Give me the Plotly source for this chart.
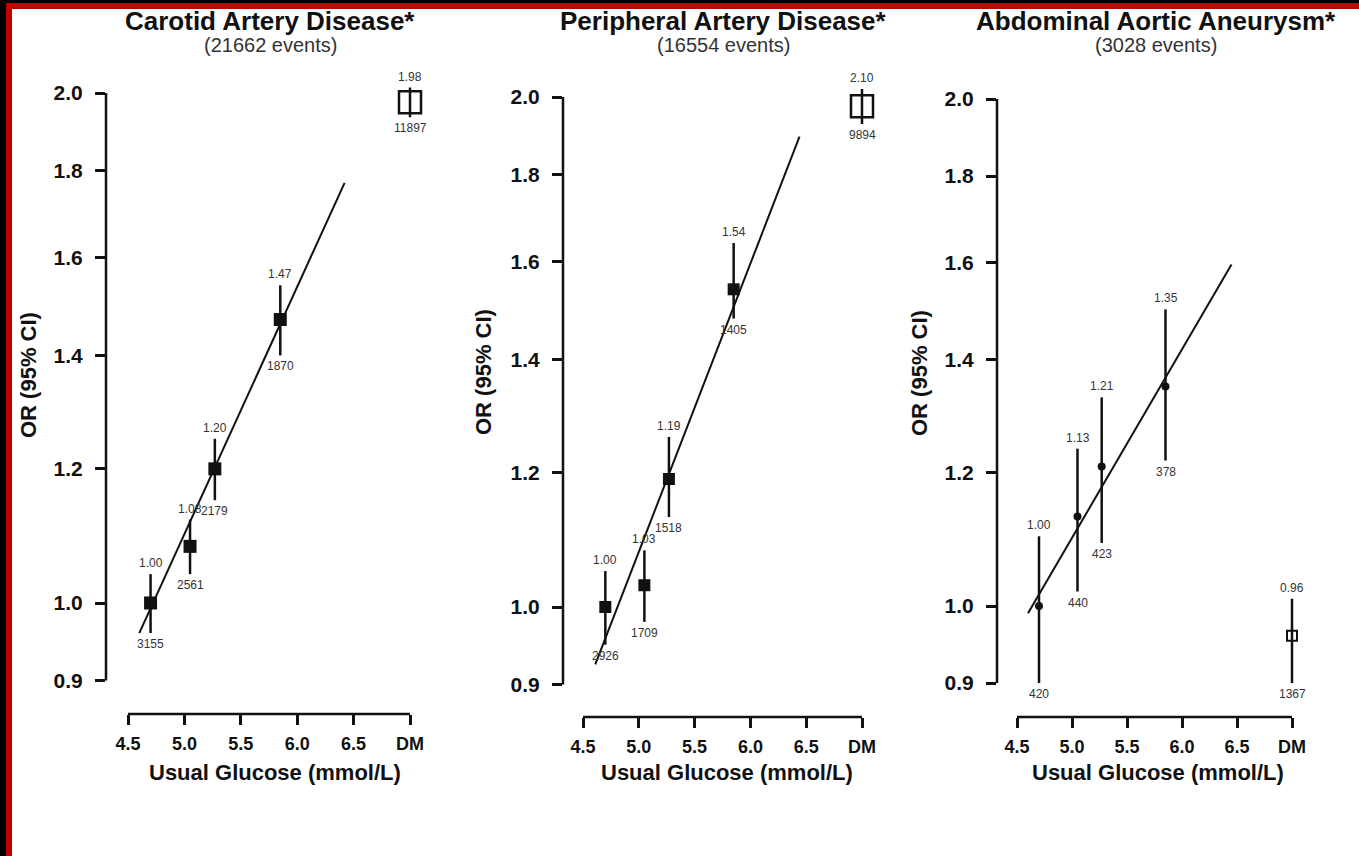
import math
import plotly.graph_objects as go

W, H = 1359, 856
FONT = "Liberation Sans, Arial, sans-serif"

# ---- data -----------------------------------------------------------------
GLUCOSE = [4.70, 5.05, 5.27, 5.85]          # usual glucose group means (mmol/L)
DM_POS = 7.0                                 # slot used for the diabetes group
X_TICKS = [4.5, 5.0, 5.5, 6.0, 6.5, 7.0]
X_TICK_TEXT = ["4.5", "5.0", "5.5", "6.0", "6.5", "DM"]
Y_TICKS = [0.9, 1.0, 1.2, 1.4, 1.6, 1.8, 2.0]
Y_TICK_TEXT = ["0.9", "1.0", "1.2", "1.4", "1.6", "1.8", "2.0"]
Y_CEIL = 1.975                               # diabetes estimates above this are pinned at the top

TITLES = ["Carotid Artery Disease*", "Peripheral Artery Disease*", "Abdominal Aortic Aneurysm*"]
EVENTS = ["(21662 events)", "(16554 events)", "(3028 events)"]

CAD_OR = [1.00, 1.08, 1.20, 1.47]
CAD_LO = [0.96, 1.04, 1.15, 1.40]
CAD_HI = [1.04, 1.12, 1.25, 1.54]
CAD_N = ["3155", "2561", "2179", "1870"]
CAD_FIT_X = [4.60, 6.42]
CAD_FIT_OR = [0.96, 1.77]

PAD_OR = [1.00, 1.03, 1.19, 1.54]
PAD_LO = [0.95, 0.98, 1.13, 1.48]
PAD_HI = [1.05, 1.08, 1.26, 1.64]
PAD_N = ["2926", "1709", "1518", "1405"]
PAD_FIT_X = [4.61, 6.44]
PAD_FIT_OR = [0.925, 1.895]

AAA_OR = [1.00, 1.13, 1.21, 1.35]
AAA_LO = [0.90, 1.02, 1.09, 1.22]
AAA_HI = [1.10, 1.24, 1.33, 1.50]
AAA_N = ["420", "440", "423", "378"]
AAA_FIT_X = [4.60, 6.45]
AAA_FIT_OR = [0.99, 1.595]

DM_OR = [1.98, 2.10, 0.96]
DM_LO = [1.94, 2.05, 0.90]
DM_HI = [2.02, 2.15, 1.01]
DM_N = ["11897", "9894", "1367"]

SERIES = [
    (CAD_OR, CAD_LO, CAD_HI, CAD_N, CAD_FIT_X, CAD_FIT_OR),
    (PAD_OR, PAD_LO, PAD_HI, PAD_N, PAD_FIT_X, PAD_FIT_OR),
    (AAA_OR, AAA_LO, AAA_HI, AAA_N, AAA_FIT_X, AAA_FIT_OR),
]

# ---- panel frames (pixel placement of each panel's axes) -------------------
FRAMES = [
    dict(yaxis_px=106, x45_px=128, xdm_px=410, y1_py=603, y2_py=93, xaxis_py=714,
         title_x=270, ytitle_x=28, ytitle_y=375, xtitle_x=275,
         pt=dict(symbol="square", size=13), dm=dict(symbol="square-open", size=22, lw=2.5)),
    dict(yaxis_px=563, x45_px=583, xdm_px=862, y1_py=607, y2_py=97, xaxis_py=717,
         title_x=723, ytitle_x=483, ytitle_y=372, xtitle_x=727,
         pt=dict(symbol="square", size=12), dm=dict(symbol="square-open", size=22, lw=2.5)),
    dict(yaxis_px=997, x45_px=1017, xdm_px=1292, y1_py=606, y2_py=99, xaxis_py=717,
         title_x=1156, ytitle_x=919, ytitle_y=373, xtitle_x=1158,
         pt=dict(symbol="circle", size=8), dm=dict(symbol="square-open", size=10, lw=2)),
]
TOP_PY = 55
RIGHT_PAD = 40


def fx(px):
    return px / W


def fy(py):
    return 1 - py / H


fig = go.Figure()
annotations = []
shapes = []
layout_axes = {}

for i, (frame, series) in enumerate(zip(FRAMES, SERIES)):
    n = i + 1
    xa = "x" if n == 1 else f"x{n}"
    ya = "y" if n == 1 else f"y{n}"
    or_, lo, hi, counts, fit_x, fit_or = series

    # linear glucose scale and log odds-ratio scale for this panel
    sx = (frame["xdm_px"] - frame["x45_px"]) / 2.5
    ky = (frame["y1_py"] - frame["y2_py"]) / math.log(2.0)
    x0 = 4.5 - (frame["x45_px"] - frame["yaxis_px"]) / sx
    x1 = 7.0 + RIGHT_PAD / sx
    ylo = math.exp((frame["y1_py"] - frame["xaxis_py"]) / ky)
    yhi = math.exp((frame["y1_py"] - TOP_PY) / ky)

    tickfont = dict(family=FONT, color="#111", weight="bold")
    layout_axes["xaxis" if n == 1 else f"xaxis{n}"] = dict(
        domain=[fx(frame["yaxis_px"]), fx(frame["xdm_px"] + RIGHT_PAD)],
        range=[x0, x1], anchor=ya, showline=False, showgrid=False, zeroline=False,
        tickmode="array", tickvals=X_TICKS, ticktext=X_TICK_TEXT,
        ticks="outside", ticklen=10, tickwidth=2.5, tickcolor="#111",
        tickfont=dict(tickfont, size=18), ticklabelstandoff=3, fixedrange=True,
    )
    layout_axes["yaxis" if n == 1 else f"yaxis{n}"] = dict(
        domain=[fy(frame["xaxis_py"]), fy(TOP_PY)],
        type="log", range=[math.log10(ylo), math.log10(yhi)], anchor=xa,
        showline=False, showgrid=False, zeroline=False,
        tickmode="array", tickvals=Y_TICKS, ticktext=Y_TICK_TEXT,
        ticks="outside", ticklen=10, tickwidth=2.5, tickcolor="#111",
        tickfont=dict(tickfont, size=21), ticklabelstandoff=8, fixedrange=True,
    )

    # axis lines span only the labelled range
    shapes.append(dict(type="line", xref=f"{xa} domain", yref=ya, x0=0, x1=0,
                       y0=Y_TICKS[0], y1=Y_TICKS[-1], line=dict(color="#111", width=2.5)))
    shapes.append(dict(type="line", xref=xa, yref=f"{ya} domain", x0=X_TICKS[0], x1=X_TICKS[-1],
                       y0=0, y1=0, line=dict(color="#111", width=2.5)))

    # fitted trend
    fig.add_trace(go.Scatter(x=fit_x, y=fit_or, mode="lines", xaxis=xa, yaxis=ya,
                             line=dict(color="#111", width=2), hoverinfo="skip", showlegend=False))

    # glucose groups with 95% CI
    fig.add_trace(go.Scatter(
        x=GLUCOSE, y=or_, mode="markers", xaxis=xa, yaxis=ya, showlegend=False,
        marker=dict(symbol=frame["pt"]["symbol"], size=frame["pt"]["size"], color="#111"),
        error_y=dict(type="data", symmetric=False,
                     array=[h - o for h, o in zip(hi, or_)],
                     arrayminus=[o - l for o, l in zip(or_, lo)],
                     width=0, thickness=2.5, color="#111"),
    ))

    # diabetes group, pinned below the ceiling when it exceeds the axis
    dm_scale = min(DM_OR[i], Y_CEIL) / DM_OR[i]
    dm_y = DM_OR[i] * dm_scale
    dm_lo = DM_LO[i] * dm_scale
    dm_hi = DM_HI[i] * dm_scale
    fig.add_trace(go.Scatter(
        x=[DM_POS], y=[dm_y], mode="markers", xaxis=xa, yaxis=ya, showlegend=False,
        marker=dict(symbol=frame["dm"]["symbol"], size=frame["dm"]["size"], color="#111",
                    line=dict(color="#111", width=frame["dm"]["lw"])),
        error_y=dict(type="data", symmetric=False, array=[dm_hi - dm_y],
                     arrayminus=[dm_y - dm_lo], width=0, thickness=2.5, color="#111"),
    ))

    # value labels: OR above each interval, event count below
    lab_font = dict(family=FONT, size=12, color="#333")
    for gx, o, h, l, c in list(zip(GLUCOSE, or_, hi, lo, counts)) + [(DM_POS, DM_OR[i], dm_hi, dm_lo, DM_N[i])]:
        annotations.append(dict(x=gx, y=math.log10(h), xref=xa, yref=ya, text=f"{o:.2f}",
                                showarrow=False, xanchor="center", yanchor="bottom", yshift=2,
                                font=lab_font))
        annotations.append(dict(x=gx, y=math.log10(l), xref=xa, yref=ya, text=c,
                                showarrow=False, xanchor="center", yanchor="top", yshift=-2,
                                font=lab_font))

    # titles
    annotations.append(dict(x=fx(frame["title_x"]), y=fy(21), xref="paper", yref="paper",
                            text=f"<b>{TITLES[i]}</b>", showarrow=False,
                            xanchor="center", yanchor="middle",
                            font=dict(family=FONT, size=26, color="#111")))
    annotations.append(dict(x=fx(frame["title_x"]), y=fy(45), xref="paper", yref="paper",
                            text=EVENTS[i], showarrow=False, xanchor="center", yanchor="middle",
                            font=dict(family=FONT, size=20, color="#333")))
    annotations.append(dict(x=fx(frame["ytitle_x"]), y=fy(frame["ytitle_y"]), xref="paper", yref="paper",
                            text="<b>OR (95% CI)</b>", showarrow=False, textangle=-90,
                            xanchor="center", yanchor="middle",
                            font=dict(family=FONT, size=22, color="#111")))
    annotations.append(dict(x=fx(frame["xtitle_x"]), y=fy(772), xref="paper", yref="paper",
                            text="<b>Usual Glucose (mmol/L)</b>", showarrow=False,
                            xanchor="center", yanchor="middle",
                            font=dict(family=FONT, size=22, color="#111")))

# slide frame: black outer edge with a red inner band along the top and left
shapes += [
    dict(type="rect", xref="paper", yref="paper", x0=0, x1=fx(6), y0=0, y1=1,
         fillcolor="#000", line=dict(width=0), layer="above"),
    dict(type="rect", xref="paper", yref="paper", x0=0, x1=1, y0=fy(3), y1=1,
         fillcolor="#000", line=dict(width=0), layer="above"),
    dict(type="rect", xref="paper", yref="paper", x0=fx(6), x1=fx(12), y0=0, y1=fy(3),
         fillcolor="#c00000", line=dict(width=0), layer="above"),
    dict(type="rect", xref="paper", yref="paper", x0=fx(6), x1=1, y0=fy(9), y1=fy(3),
         fillcolor="#c00000", line=dict(width=0), layer="above"),
]

fig.update_layout(
    width=W, height=H, autosize=False,
    margin=dict(l=0, r=0, t=0, b=0, pad=0),
    paper_bgcolor="white", plot_bgcolor="white",
    showlegend=False, annotations=annotations, shapes=shapes,
    **layout_axes,
)

fig.write_html("out.html", config={"displayModeBar": False})
